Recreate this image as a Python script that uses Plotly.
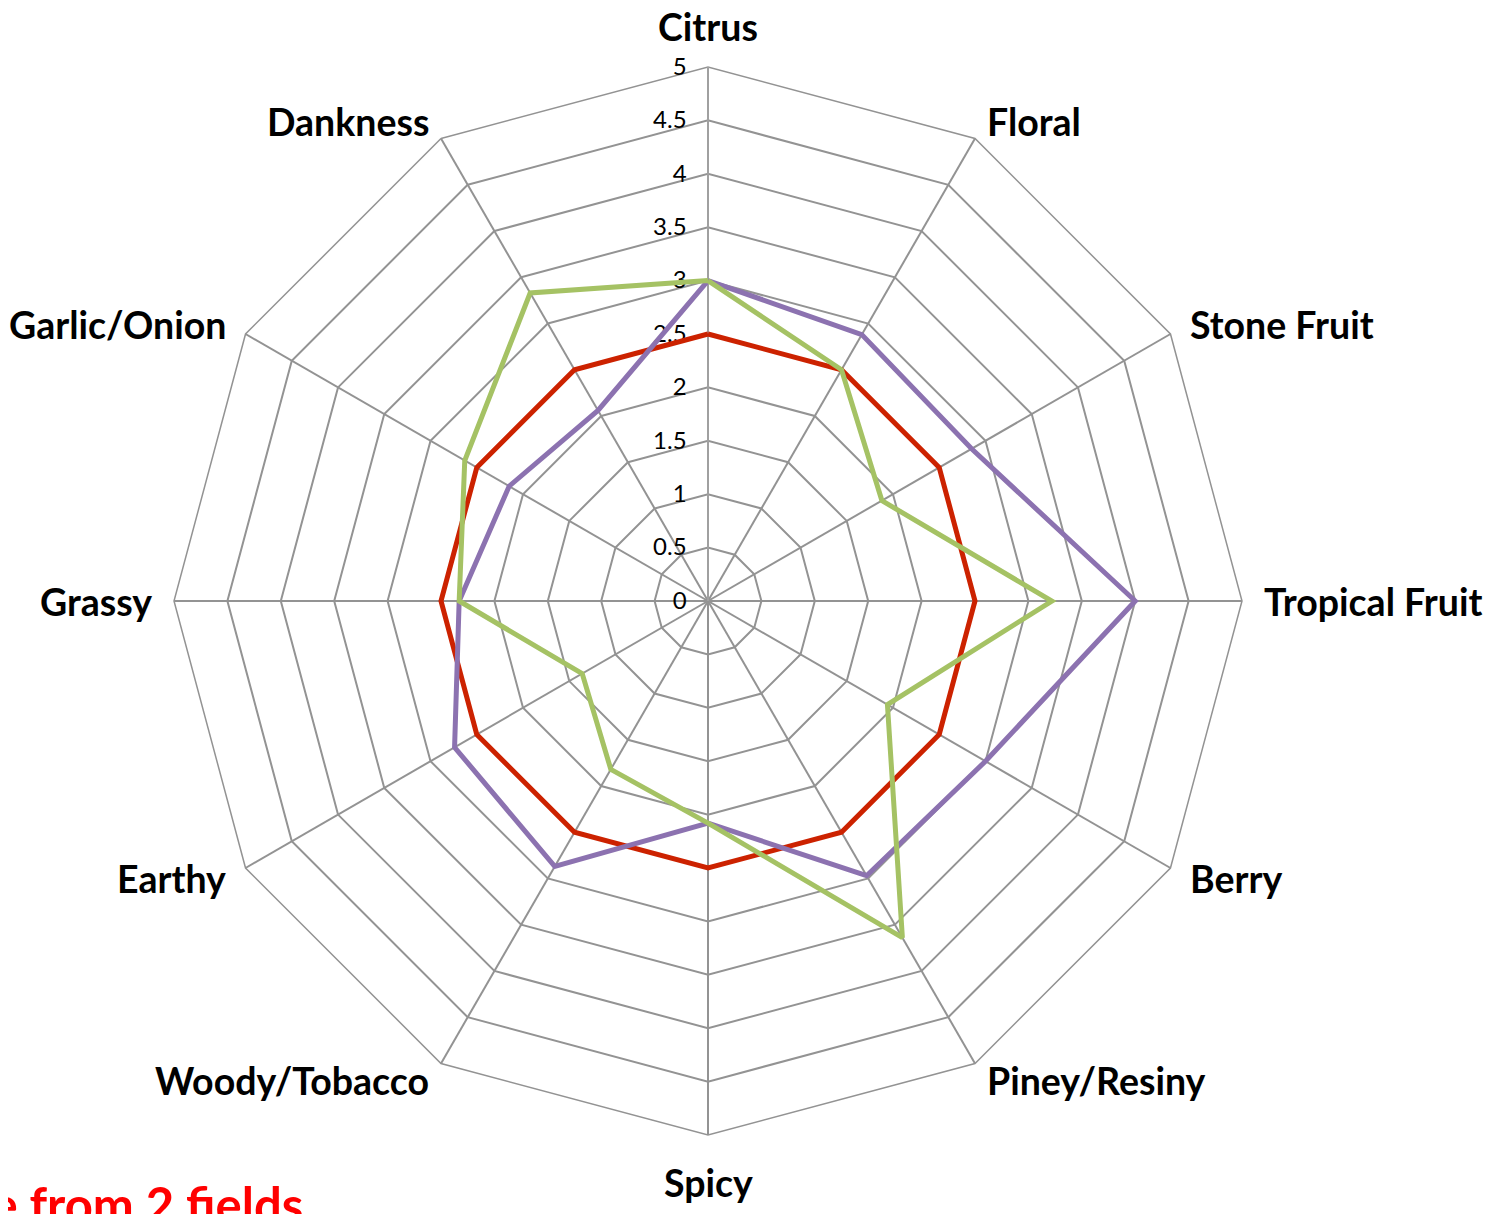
import math
import plotly.graph_objects as go

categories = ["Citrus", "Floral", "Stone Fruit", "Tropical Fruit", "Berry", "Piney/Resiny",
              "Spicy", "Woody/Tobacco", "Earthy", "Grassy", "Garlic/Onion", "Dankness"]
red_vals = [2.5, 2.5, 2.5, 2.5, 2.5, 2.5, 2.5, 2.5, 2.5, 2.5, 2.5, 2.5]
purple_vals = [3.0, 2.88, 2.85, 4.0, 3.0, 2.97, 2.08, 2.87, 2.74, 2.33, 2.15, 2.06]
green_vals = [3.0, 2.5, 1.88, 3.22, 1.94, 3.64, 2.08, 1.82, 1.36, 2.33, 2.63, 3.33]
radial_ticks = [0, 0.5, 1, 1.5, 2, 2.5, 3, 3.5, 4, 4.5, 5]
radial_labels = ["0", "0.5", "1", "1.5", "2", "2.5", "3", "3.5", "4", "4.5", "5"]
footnote = "Average from 2 fields"

series = [
    ("Series 1", red_vals, "#CC2200"),
    ("Series 2", purple_vals, "#8C72B0"),
    ("Series 3", green_vals, "#A5C264"),
]

W, H = 1501, 1214
OFF = 8  # page body margin offsets the figure on screen
cx, cy, R = 708, 601, 534  # on-screen centre and radius


def px2paper_x(x):
    return (x - OFF) / W


def px2paper_y(y):
    return (H - (y - OFF)) / H


fig = go.Figure()
for name, vals, col in series:
    fig.add_trace(go.Scatterpolar(
        r=vals + vals[:1], theta=categories + categories[:1], mode="lines",
        name=name, line=dict(color=col, width=5), showlegend=False,
        hoverinfo="skip"))

grid = "#939393"
fig.update_layout(
    width=W, height=H,
    margin=dict(l=0, r=0, t=0, b=0),
    paper_bgcolor="white",
    font=dict(family="Lato, Carlito, sans-serif", color="black"),
    polar=dict(
        domain=dict(x=[px2paper_x(cx - R), px2paper_x(cx + R)],
                    y=[px2paper_y(cy + R), px2paper_y(cy - R)]),
        bgcolor="white",
        gridshape="linear",
        radialaxis=dict(
            range=[0, 5], tickvals=radial_ticks, ticktext=radial_labels,
            angle=90, tickangle=90, side="counterclockwise",
            showline=True, linecolor="#a0a0a0", linewidth=2,
            gridcolor=grid, gridwidth=1.5,
            ticks="outside", ticklen=12, tickcolor="rgba(0,0,0,0)",
            tickfont=dict(size=24, family="Lato, sans-serif", color="black"),
            layer="below traces"),
        angularaxis=dict(
            rotation=90, direction="clockwise",
            showline=True, linecolor=grid, linewidth=1.5,
            gridcolor=grid, gridwidth=1.5,
            showticklabels=False, ticks="",
            layer="below traces"),
    ),
)

# category labels placed just outside each spoke end, Excel-style
n = len(categories)
gap = 20
for i, cat in enumerate(categories):
    th = math.radians(90 - 360 * i / n)
    c, s = math.cos(th), math.sin(th)
    px = cx + (R + gap) * c
    py = cy - (R + gap) * s
    if abs(c) < 1e-6:
        xa = "center"
        ya = "bottom" if s > 0 else "top"
        py += 4 if s > 0 else 3
    else:
        xa = "left" if c > 0 else "right"
        ya = "middle"
    fig.add_annotation(
        text=cat, xref="paper", yref="paper", x=px2paper_x(px), y=px2paper_y(py),
        xanchor=xa, yanchor=ya, showarrow=False,
        font=dict(size=37.5, family="Lato, sans-serif", color="black", weight="bold"))

fig.add_annotation(
    text=footnote, xref="paper", yref="paper",
    x=px2paper_x(305), y=px2paper_y(1173), xanchor="right", yanchor="top",
    showarrow=False, font=dict(size=49, color="#FF0000", family="Lato, sans-serif", weight="bold"))

fig.write_html("out.html")
